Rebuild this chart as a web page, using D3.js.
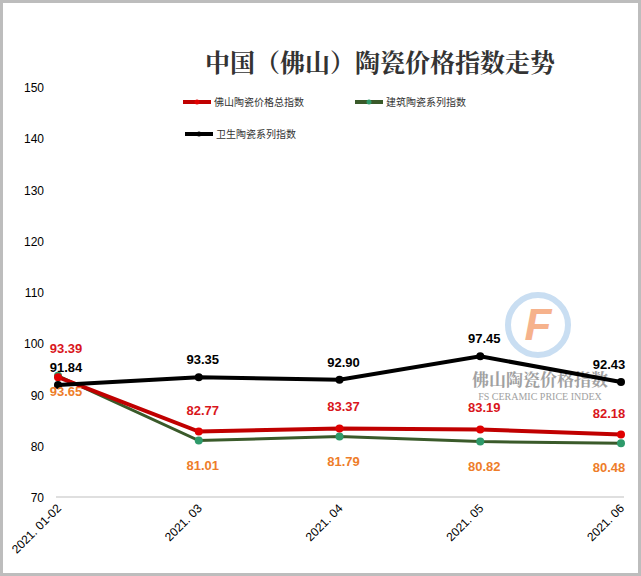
<!DOCTYPE html><html><head><meta charset="utf-8"><script src="https://cdn.jsdelivr.net/npm/d3@7"></script>
<style>body{margin:0;background:#fff}</style></head><body><svg id="c" width="641" height="576"></svg>
<script>
const categories=["2021.01-02","2021.03","2021.04","2021.05","2021.06"];
const totalIdx=[93.39,82.77,83.37,83.19,82.18];
const buildIdx=[93.65,81.01,81.79,80.82,80.48];
const sanIdx=[91.84,93.35,92.90,97.45,92.43];
const yTicks=[70,80,90,100,110,120,130,140,150];
const svg=d3.select("#c");
svg.append("rect").attr("x",1.5).attr("y",1.5).attr("width",638).attr("height",573).attr("fill","#fff").attr("stroke","#bdbdbd").attr("stroke-width",3);
const x=d3.scalePoint().domain(categories).range([58,621]);
const y=d3.scaleLinear().domain([70,150]).range([497,87]);
const f="'Noto Sans CJK SC',sans-serif";
svg.append("line").attr("x1",56).attr("x2",624).attr("y1",y(70)).attr("y2",y(70)).attr("stroke","#bfbfbf");
svg.selectAll(".yt").data(yTicks).join("text").attr("x",44).attr("y",d=>y(d)+5).attr("text-anchor","end").attr("font-family","'Liberation Sans',sans-serif").attr("font-size",12).text(d=>d);
svg.selectAll(".xt").data(categories).join("text").attr("transform",d=>`translate(${x(d)+4},${y(70)+12}) rotate(-45)`).attr("text-anchor","end").attr("font-family","'Liberation Sans',sans-serif").attr("font-size",12).text(d=>d.replace(".",". "));
const wm=svg.append("g").attr("opacity",0.8);
wm.append("circle").attr("cx",538).attr("cy",325).attr("r",30).attr("fill","none").attr("stroke","#bcd6ef").attr("stroke-width",6);
wm.append("text").attr("x",538).attr("y",340).attr("text-anchor","middle").attr("font-family","'Liberation Sans'").attr("font-weight","bold").attr("font-style","italic").attr("font-size",44).attr("fill","#f5a070").text("F");
wm.append("text").attr("x",540).attr("y",386).attr("text-anchor","middle").attr("font-family","'Noto Serif CJK SC','Noto Sans CJK SC'").attr("font-weight","bold").attr("font-size",17).attr("fill","#8a8a8a").text("佛山陶瓷价格指数");
wm.append("text").attr("x",540).attr("y",400).attr("text-anchor","middle").attr("font-family","'Liberation Serif'").attr("font-size",10).attr("fill","#8a8a8a").text("FS CERAMIC PRICE INDEX");
const series=[
 {d:buildIdx,c:"#3a5a2a",m:"#2e9a6a",w:3,lc:"#ee7d2a",dy:[20,29,29,29,29]},
 {d:totalIdx,c:"#c00000",m:"#e00000",w:4,lc:"#d9161c",dy:[-24,-17,-17,-17,-17]},
 {d:sanIdx,c:"#000",m:"#000",w:4,lc:"#000",dy:[-13,-13,-13,-13,-13]}];
const dx=[8,4,4,4,-12];
const line=d3.line().x((d,i)=>x(categories[i])).y(d=>y(d));
series.forEach(s=>{
 svg.append("path").attr("d",line(s.d)).attr("fill","none").attr("stroke",s.c).attr("stroke-width",s.w);
 svg.selectAll(null).data(s.d).join("circle").attr("cx",(d,i)=>x(categories[i])).attr("cy",d=>y(d)).attr("r",4).attr("fill",s.m);
});
series.forEach(s=>{
 svg.selectAll(null).data(s.d).join("text").attr("x",(d,i)=>x(categories[i])+dx[i]).attr("y",(d,i)=>y(d)+s.dy[i]).attr("text-anchor","middle").attr("font-family","'Liberation Sans',Arial").attr("font-weight","bold").attr("font-size",13).attr("fill",s.lc).text(d=>d.toFixed(2));
});
svg.append("text").attr("x",380).attr("y",72).attr("text-anchor","middle").attr("font-family","'Noto Serif CJK SC','Noto Sans CJK SC'").attr("font-weight","bold").attr("font-size",25).attr("fill","#333").text("中国（佛山）陶瓷价格指数走势");
const leg=[{t:"佛山陶瓷价格总指数",c:"#c00000",m:"#e00000",x:183,y:102},{t:"建筑陶瓷系列指数",c:"#3a5a2a",m:"#2e9a6a",x:355,y:102},{t:"卫生陶瓷系列指数",c:"#000",m:"#000",x:185,y:134}];
leg.forEach(l=>{svg.append("line").attr("x1",l.x).attr("x2",l.x+28).attr("y1",l.y).attr("y2",l.y).attr("stroke",l.c).attr("stroke-width",4);
svg.append("circle").attr("cx",l.x+14).attr("cy",l.y).attr("r",2.5).attr("fill",l.m);
svg.append("text").attr("x",l.x+31).attr("y",l.y+4).attr("font-family",f).attr("font-size",10).attr("fill","#333").text(l.t);});
</script></body></html>
